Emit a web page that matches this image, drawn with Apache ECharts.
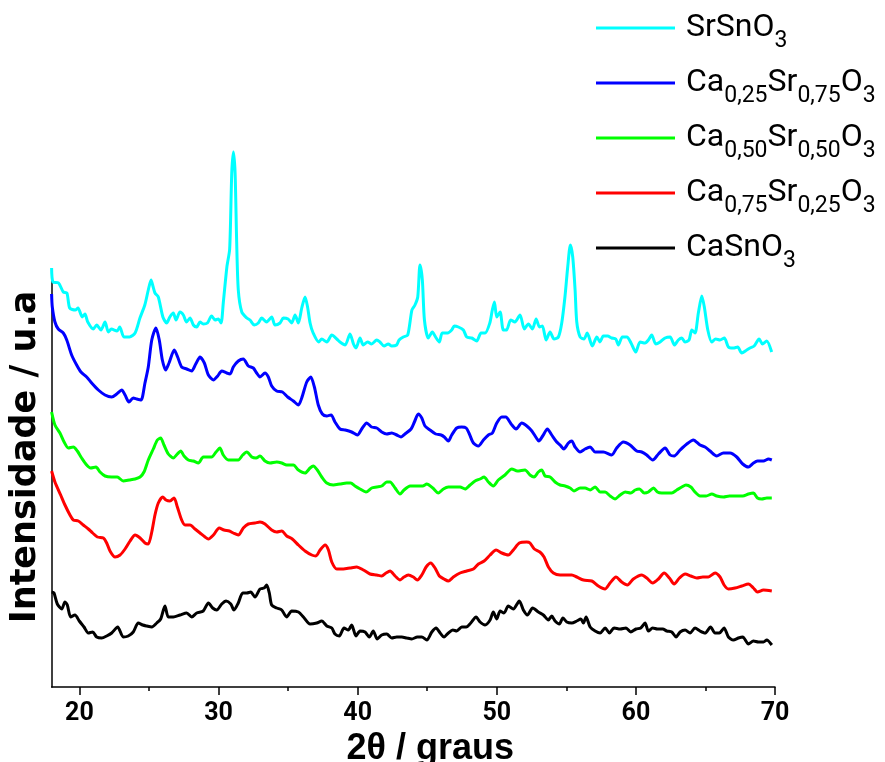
<!DOCTYPE html>
<html>
<head>
<meta charset="utf-8">
<script src="https://cdn.jsdelivr.net/npm/echarts@6/dist/echarts.min.js"></script>
<style>html,body{margin:0;padding:0;background:#fff}#c{width:885px;height:762px}</style>
</head>
<body>
<div id="c"></div>
<script>
// ---- data (2θ in degrees, intensity in arbitrary units) ----
const seriesNames = ['SrSnO3', 'Ca0,25Sr0,75O3', 'Ca0,50Sr0,50O3', 'Ca0,75Sr0,25O3', 'CaSnO3'];
const seriesColors = ['#00FFFF', '#0000FF', '#00FF00', '#FF0000', '#000000'];
const xLabelValues = [20, 30, 40, 50, 60, 70];
const xMinorTickValues = [25, 35, 45, 55, 65];

const srSnO3 = [[18.0,419],[18.1,405],[18.5,404],[18.84,395],[19.1,394],[19.3,379],[19.7,377],[19.9,379],[20.2,370],[20.4,373],[20.6,365],[21.0,358],[21.24,362],[21.55,357],[21.84,365],[22.08,355],[22.3,358],[22.7,356],[22.9,360],[23.2,350],[23.6,350],[24.0,354],[24.35,369],[24.7,382],[24.95,397],[25.15,407],[25.3,400],[25.43,394],[25.67,390],[26.0,370],[26.27,364],[26.5,370],[26.75,374],[26.94,367],[27.23,375],[27.47,372],[27.7,365],[27.95,369],[28.19,362],[28.43,360],[28.67,365],[28.9,363],[29.2,364],[29.5,371],[29.75,367],[29.98,368],[30.18,364],[30.34,384],[30.6,420],[30.8,438],[30.95,514],[31.07,535],[31.19,514],[31.3,447],[31.42,397],[31.67,375],[32.03,369],[32.26,367],[32.57,362],[32.86,364],[33.1,369],[33.46,365],[33.82,370],[34.06,362],[34.42,364],[34.66,369],[35.0,368],[35.26,364],[35.5,372],[35.74,364],[35.98,379],[36.22,390],[36.4,380],[36.58,364],[36.8,354],[37.2,345],[37.42,348],[37.78,345],[38.14,352],[38.5,348],[38.73,345],[39.1,342],[39.45,353],[39.7,343],[39.88,339],[40.17,349],[40.4,342],[40.72,345],[41.0,343],[41.37,347],[41.6,345],[41.9,341],[42.2,343],[42.45,341],[42.8,342],[42.98,347],[43.28,350],[43.6,352],[43.9,377],[44.12,382],[44.32,390],[44.48,422],[44.65,407],[44.8,367],[45.08,349],[45.37,355],[45.6,350],[45.87,345],[46.08,354],[46.47,354],[46.76,357],[46.95,361],[47.24,360],[47.6,357],[47.84,350],[48.2,349],[48.56,346],[48.87,354],[49.16,354],[49.5,364],[49.68,377],[49.83,385],[50.0,370],[50.24,375],[50.47,357],[50.7,357],[51.0,367],[51.3,365],[51.67,372],[51.98,358],[52.27,363],[52.56,358],[52.83,368],[53.07,360],[53.28,361],[53.55,347],[53.83,355],[54.12,348],[54.43,350],[54.67,364],[54.9,390],[55.1,420],[55.29,442],[55.46,430],[55.63,397],[55.75,365],[55.99,350],[56.27,348],[56.5,354],[56.87,341],[57.19,350],[57.42,345],[57.66,351],[57.97,351],[58.26,349],[58.55,348],[58.74,342],[59.03,350],[59.35,350],[59.65,344],[59.99,335],[60.3,345],[60.66,344],[60.9,347],[61.14,352],[61.43,343],[61.74,345],[62.1,349],[62.46,350],[62.77,342],[63.05,347],[63.3,349],[63.53,345],[63.82,347],[64.02,357],[64.25,354],[64.49,374],[64.74,391],[64.92,380],[65.17,357],[65.45,345],[65.74,348],[66.05,347],[66.36,349],[66.65,340],[67.0,339],[67.32,340],[67.61,334],[67.97,337],[68.2,339],[68.5,341],[68.86,348],[69.1,343],[69.4,346],[69.76,335]];

const ca25Sr75 = [[18.0,393],[18.05,380],[18.24,365],[18.48,358],[18.84,354],[19.09,347],[19.44,332],[19.8,322],[20.11,315],[20.52,310],[20.88,304],[21.36,297],[21.84,292],[22.32,290],[22.68,293],[23.04,297],[23.28,292],[23.56,285],[23.87,289],[24.12,288],[24.43,287],[24.71,304],[24.95,320],[25.2,347],[25.5,359],[25.74,347],[25.96,327],[26.2,317],[26.44,324],[26.82,337],[27.06,330],[27.35,320],[27.71,318],[28.07,316],[28.36,323],[28.67,330],[28.98,324],[29.27,312],[29.63,307],[29.94,311],[30.23,316],[30.59,314],[30.83,313],[31.06,320],[31.42,326],[31.78,328],[32.14,321],[32.5,319],[32.74,314],[32.98,310],[33.34,314],[33.58,310],[33.82,301],[34.18,296],[34.59,295],[34.97,290],[35.38,286],[35.74,282],[35.98,289],[36.34,305],[36.63,310],[36.89,300],[37.17,282],[37.46,273],[37.78,271],[38.09,272],[38.37,265],[38.73,258],[39.11,257],[39.57,255],[39.98,252],[40.34,259],[40.65,264],[41.0,260],[41.37,259],[41.73,255],[42.09,253],[42.45,254],[42.81,252],[43.12,250],[43.4,253],[43.84,258],[44.08,265],[44.36,273],[44.61,269],[44.84,261],[45.2,257],[45.61,253],[46.0,252],[46.23,250],[46.52,246],[46.76,252],[47.12,259],[47.48,260],[47.8,259],[48.03,253],[48.32,244],[48.68,241],[49.04,247],[49.4,252],[49.69,254],[50.0,264],[50.36,270],[50.65,270],[51.03,263],[51.39,258],[51.8,264],[52.16,261],[52.52,256],[52.85,249],[53.02,246],[53.3,251],[53.64,258],[53.95,252],[54.31,245],[54.55,242],[54.82,238],[55.15,244],[55.39,246],[55.63,240],[55.99,235],[56.35,238],[56.71,240],[57.07,235],[57.66,235],[58.26,232],[58.62,239],[59.1,245],[59.58,242],[60.06,236],[60.42,235],[60.78,232],[61.21,227],[61.62,233],[62.1,239],[62.46,232],[62.75,231],[63.18,237],[63.66,243],[64.13,247],[64.61,242],[64.97,240],[65.33,236],[65.81,231],[66.29,234],[66.77,234],[67.25,230],[67.68,223],[68.09,220],[68.45,224],[68.74,226],[69.17,226],[69.53,228],[69.77,227]];

const ca50Sr50 = [[18.0,275],[18.24,262],[18.6,254],[18.9,245],[19.2,239],[19.56,240],[19.85,236],[20.16,229],[20.52,222],[20.81,219],[21.19,220],[21.48,215],[21.84,211],[22.32,210],[22.72,210],[23.15,206],[23.59,207],[24.0,208],[24.36,210],[24.64,215],[24.95,227],[25.31,238],[25.6,247],[25.84,249],[26.08,242],[26.39,233],[26.75,229],[27.04,233],[27.28,236],[27.52,231],[27.83,227],[28.19,226],[28.55,224],[28.9,230],[29.15,230],[29.5,230],[29.82,235],[30.1,239],[30.34,232],[30.7,227],[31.06,227],[31.42,227],[31.74,232],[32.03,235],[32.39,230],[32.7,229],[32.98,231],[33.34,226],[33.7,224],[34.18,225],[34.54,224],[34.9,222],[35.38,222],[35.74,217],[36.22,214],[36.58,219],[36.81,221],[37.1,217],[37.42,210],[37.78,204],[38.25,202],[38.73,203],[39.21,204],[39.5,204],[39.81,201],[40.17,198],[40.6,195],[41.01,199],[41.37,200],[41.73,201],[42.09,205],[42.33,205],[42.69,199],[43.05,193],[43.33,197],[43.77,201],[44.25,201],[44.68,201],[44.97,203],[45.4,199],[45.8,194],[46.16,198],[46.52,200],[47.0,200],[47.36,200],[47.72,198],[48.08,202],[48.44,206],[48.8,208],[49.09,210],[49.4,205],[49.75,201],[50.11,207],[50.59,212],[51.08,218],[51.48,216],[52.03,217],[52.39,212],[52.68,210],[52.99,215],[53.23,217],[53.47,211],[53.83,210],[54.19,205],[54.55,202],[54.91,201],[55.27,199],[55.55,196],[55.99,199],[56.35,199],[56.71,197],[57.07,200],[57.43,195],[57.79,195],[58.15,191],[58.5,188],[58.87,192],[59.23,195],[59.63,194],[59.95,197],[60.26,198],[60.6,194],[60.9,195],[61.27,199],[61.55,195],[61.86,194],[62.22,194],[62.58,194],[62.94,197],[63.3,200],[63.6,202],[63.95,200],[64.25,195],[64.61,191],[65.05,191],[65.46,193],[65.81,191],[66.29,190],[66.72,191],[67.25,191],[67.68,191],[68.09,193],[68.45,194],[68.74,189],[69.05,188],[69.41,189],[69.77,189]];

const ca75Sr25 = [[18.0,216],[18.24,205],[18.65,192],[18.96,182],[19.32,172],[19.56,167],[19.92,166],[20.28,162],[20.64,158],[20.95,154],[21.29,150],[21.72,149],[21.96,144],[22.2,136],[22.56,130],[22.92,132],[23.28,138],[23.64,146],[24.0,152],[24.36,149],[24.71,144],[24.95,143],[25.2,155],[25.43,172],[25.67,184],[25.99,190],[26.22,187],[26.51,186],[26.8,189],[27.04,180],[27.35,167],[27.59,162],[27.95,162],[28.31,158],[28.67,154],[29.03,150],[29.27,148],[29.63,152],[30.05,159],[30.39,157],[30.78,156],[31.06,154],[31.42,152],[31.78,159],[32.14,163],[32.62,164],[32.98,165],[33.34,163],[33.82,157],[34.18,155],[34.54,156],[34.9,151],[35.3,148],[35.74,142],[36.22,136],[36.7,132],[37.0,131],[37.3,137],[37.66,142],[37.9,137],[38.14,125],[38.5,118],[38.97,118],[39.45,119],[39.93,120],[40.41,117],[40.89,113],[41.37,112],[41.73,111],[42.04,114],[42.33,116],[42.69,111],[43.05,107],[43.33,110],[43.64,112],[44.0,110],[44.29,107],[44.61,112],[44.92,120],[45.25,124],[45.56,119],[45.87,111],[46.21,108],[46.52,106],[46.88,110],[47.36,114],[47.84,116],[48.32,118],[48.68,123],[49.09,126],[49.52,132],[49.95,137],[50.36,134],[50.83,132],[51.19,137],[51.62,144],[52.15,145],[52.39,144],[52.7,138],[53.1,135],[53.4,130],[53.71,120],[54.07,114],[54.55,112],[55.03,112],[55.39,112],[55.75,110],[56.23,107],[56.83,106],[57.3,101],[57.78,98],[58.14,104],[58.57,110],[58.98,105],[59.39,102],[59.82,108],[60.42,112],[60.78,109],[61.21,104],[61.62,108],[62.03,114],[62.41,109],[62.75,103],[63.13,109],[63.54,113],[63.95,111],[64.38,109],[64.81,110],[65.21,110],[65.69,114],[66.05,110],[66.34,102],[66.65,98],[67.13,99],[67.61,101],[68.09,103],[68.45,99],[68.74,95],[69.17,97],[69.77,96]];

const caSnO3 = [[18.0,95],[18.17,94],[18.41,83],[18.73,78],[18.96,85],[19.13,82],[19.37,70],[19.68,72],[19.99,66],[20.33,60],[20.64,54],[20.95,55],[21.24,50],[21.6,49],[21.96,51],[22.32,54],[22.75,60],[23.15,50],[23.51,51],[23.87,55],[24.23,64],[24.55,62],[24.84,61],[25.2,60],[25.56,64],[25.84,68],[26.15,81],[26.39,70],[26.75,70],[27.23,72],[27.71,74],[28.07,70],[28.43,74],[28.9,76],[29.27,84],[29.58,79],[29.87,77],[30.23,83],[30.54,86],[30.88,83],[31.11,77],[31.42,84],[31.74,94],[32.03,94],[32.31,95],[32.62,90],[32.98,98],[33.27,99],[33.46,102],[33.65,94],[33.82,82],[34.18,79],[34.54,77],[34.9,70],[35.26,76],[35.74,75],[36.1,70],[36.58,63],[37.06,64],[37.42,66],[37.78,61],[38.14,59],[38.37,53],[38.68,51],[39.02,59],[39.33,57],[39.57,62],[39.88,51],[40.17,56],[40.53,55],[40.84,50],[41.12,56],[41.41,48],[41.73,52],[42.09,53],[42.45,49],[42.81,50],[43.17,50],[43.53,49],[43.89,48],[44.29,50],[44.61,50],[44.97,47],[45.33,55],[45.64,59],[45.93,54],[46.21,50],[46.52,54],[46.84,57],[47.12,56],[47.48,60],[47.8,60],[48.13,64],[48.51,70],[48.8,65],[49.16,62],[49.52,67],[49.75,75],[50.0,68],[50.24,76],[50.52,74],[50.83,81],[51.19,78],[51.62,86],[51.91,77],[52.2,72],[52.58,79],[52.99,75],[53.35,72],[53.71,67],[53.95,71],[54.19,66],[54.5,63],[54.75,69],[55.03,65],[55.39,64],[55.75,66],[56.04,68],[56.23,64],[56.42,70],[56.71,60],[57.07,56],[57.43,54],[57.79,59],[58.1,54],[58.43,59],[58.87,58],[59.29,59],[59.63,55],[60.01,58],[60.35,59],[60.66,64],[60.9,56],[61.21,59],[61.55,58],[61.93,58],[62.22,56],[62.58,55],[62.89,50],[63.18,55],[63.54,57],[63.9,54],[64.25,59],[64.61,56],[64.97,54],[65.37,60],[65.69,54],[66.0,54],[66.34,59],[66.65,50],[67.01,47],[67.37,49],[67.68,50],[68.09,43],[68.45,46],[68.81,45],[69.17,45],[69.41,47],[69.77,42]];

const seriesData = [srSnO3, ca25Sr75, ca50Sr50, ca75Sr25, caSnO3];

// ---- chart ----
const LEG_FONT = 'Roboto, "Liberation Sans", Arial, sans-serif';
const chart = echarts.init(document.getElementById('c'), null, { renderer: 'canvas' });

function legendFmt(name) {
  return '{g|}{m|' + name.replace(/(\d[\d,]*)/g, '}{s|$1}{m|') + '}';
}

chart.setOption({
  animation: false,
  backgroundColor: '#ffffff',
  grid: { left: 51.6, right: 110, top: 273, bottom: 75, outerBoundsMode: 'none', containLabel: false },
  legend: {
    orient: 'vertical',
    left: 591,
    top: 7,
    icon: 'rect',
    itemWidth: 79,
    itemHeight: 3,
    itemGap: 14,
    selectedMode: false,
    data: seriesNames,
    formatter: legendFmt,
    textStyle: {
      color: '#000',
      rich: {
        g: { width: 6 },
        m: { fontSize: 32, fontFamily: LEG_FONT, lineHeight: 50, color: '#000' },
        s: { fontSize: 23, fontFamily: LEG_FONT, lineHeight: 14, verticalAlign: 'bottom', color: '#000' }
      }
    }
  },
  xAxis: [{
    type: 'value', min: 18, max: 70,
    name: '2θ / graus', nameLocation: 'middle', nameGap: 44,
    nameTextStyle: { fontFamily: '"Liberation Sans", Arial, sans-serif', fontWeight: 'bold', fontSize: 36, color: '#000', padding: [0, 0, 0, 34] },
    axisLine: { show: true, onZero: false, lineStyle: { color: '#000', width: 1.5 } },
    axisTick: { show: true, customValues: xLabelValues, length: 8, lineStyle: { color: '#000', width: 1.5 } },
    axisLabel: { customValues: xLabelValues, fontFamily: 'Roboto, "Liberation Sans", sans-serif', fontWeight: 'bold', fontSize: 25, color: '#000', margin: 14 },
    splitLine: { show: false }
  }, {
    type: 'value', min: 18, max: 70, position: 'bottom',
    axisLine: { show: false },
    axisTick: { show: true, customValues: xMinorTickValues, length: 4, lineStyle: { color: '#000', width: 1.5 } },
    axisLabel: { show: false },
    splitLine: { show: false }
  }],
  yAxis: {
    type: 'value', min: 0, max: 414,
    name: 'Intensidade / u.a', nameLocation: 'middle', nameGap: 8,
    nameTextStyle: { fontFamily: '"DejaVu Sans", sans-serif', fontWeight: 'bold', fontSize: 35, color: '#000', padding: [0, 0, 0, 46] },
    axisLine: { show: true, onZero: false, lineStyle: { color: '#000', width: 1.5 } },
    axisTick: { show: false },
    axisLabel: { show: false },
    splitLine: { show: false }
  },
  series: seriesNames.map((n, i) => ({
    name: n,
    type: 'line',
    data: seriesData[i],
    showSymbol: false,
    symbol: 'none',
    clip: false,
    smooth: 0.25,
    color: seriesColors[i],
    lineStyle: { color: seriesColors[i], width: 3 },
    z: 10 - i
  }))
});
</script>
</body>
</html>
